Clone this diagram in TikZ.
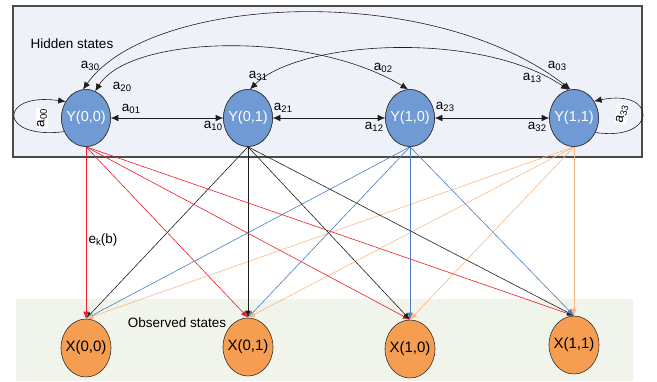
\documentclass[tikz,border=0pt]{standalone}
\usepackage{fontspec}
\setmainfont{Liberation Sans}
\usetikzlibrary{arrows.meta,shapes.geometric}
\definecolor{hidbg}{HTML}{EEF2F8}
\definecolor{obsbg}{HTML}{F1F4EA}
\definecolor{boxline}{HTML}{4A4A4A}
\definecolor{yfill}{HTML}{6F9AD3}
\definecolor{xfill}{HTML}{F59D51}
\definecolor{ered}{HTML}{EE1C25}
\definecolor{eblack}{HTML}{1E1E1E}
\definecolor{eblue}{HTML}{4A7EC0}
\definecolor{eorange}{HTML}{F9B884}
\newcommand{\asub}[1]{a\raisebox{-0.35ex}{\fontsize{9.5}{9.5}\selectfont #1}}
\begin{document}
\begin{tikzpicture}[x=1pt,y=-1pt,
  ynode/.style={ellipse, draw=black!80, line width=0.6pt, fill=yfill, minimum width=49pt, minimum height=57pt, inner sep=0pt},
  xnode/.style={ellipse, draw=black!80, line width=0.6pt, fill=xfill, minimum width=50pt, minimum height=58pt, inner sep=0pt},
  ytext/.style={text=white, font=\fontsize{14.5}{16}\selectfont, inner sep=0pt},
  xtext/.style={text=black, font=\fontsize{15}{17}\selectfont, inner sep=0pt},
  tarr/.style={{Latex[length=7.5pt,width=6.5pt]}-{Latex[length=7.5pt,width=6.5pt]}, draw=eblack, line width=0.6pt},
  sarr/.style={-{Latex[length=7.5pt,width=6.5pt]}, draw=eblack, line width=0.6pt},
  earr/.style={-{Latex[length=7pt,width=5.5pt]}, line width=0.6pt},
  lab/.style={font=\fontsize{13.5}{15}\selectfont, inner sep=1pt},
  ttl/.style={font=\fontsize{13.5}{16}\selectfont, inner sep=0pt}
]
\useasboundingbox (0,0) rectangle (657,381);
% regions
\draw[draw=boxline, line width=1.2pt, fill=hidbg] (13,6) rectangle (642,157);
\fill[obsbg] (16,299) rectangle (633,381);

% nodes
\node[ynode] (Y00) at (86,118) {};
\node[ynode] (Y01) at (248,118) {};
\node[ynode] (Y10) at (410,118) {};
\node[ynode] (Y11) at (574,118) {};

\node[xnode, label={[xtext]center:X(0,0)}] (X00) at (86,348) {};
\node[xnode, label={[xtext]center:X(0,1)}] (X01) at (248,347) {};
\node[xnode, label={[xtext]center:X(1,0)}] (X10) at (410,349) {};
\node[xnode, label={[xtext]center:X(1,1)}] (X11) at (574,345) {};

% emission arrows
\foreach \t in {X00,X01,X10,X11} {
  \draw[earr, draw=ered] (Y00.south) -- (\t.north);
  \draw[earr, draw=eblack] (Y01.south) -- (\t.north);
  \draw[earr, draw=eblue] (Y10.south) -- (\t.north);
  \draw[earr, draw=eorange] (Y11.south) -- (\t.north);
}
% hidden-state nodes drawn over the starts of the emission lines
\node[ynode, label={[ytext]center:Y(0,0)}] at (Y00) {};
\node[ynode, label={[ytext]center:Y(0,1)}] at (Y01) {};
\node[ynode, label={[ytext]center:Y(1,0)}] at (Y10) {};
\node[ynode, label={[ytext]center:Y(1,1)}] at (Y11) {};

% transitions
\draw[tarr] (Y00.east) -- (Y01.west);
\draw[tarr] (Y01.east) -- (Y10.west);
\draw[tarr] (Y10.east) -- (Y11.west);
\draw[tarr] (Y00.96) .. controls (150,-5) and (430,-20) .. (Y11.97);
\draw[tarr] (Y00.71) .. controls (130,35) and (310,30) .. (Y10.94);
\draw[tarr] (Y01.86) .. controls (300,40) and (480,30) .. (Y11.101);
\draw[sarr] (Y00.212) .. controls (-2,140) and (-2,92) .. (Y00.141);
\draw[sarr] (Y11.326) .. controls (658,142) and (658,88) .. (Y11.40);

% labels
\node[ttl] (hid) at (72,44) {Hidden states};
\node[ttl] (obs) at (177,323) {Observed states};
\node[lab] (ek) at (103,240) {e\raisebox{-0.35ex}{\fontsize{9.5}{9.5}\selectfont k}(b)};
\node[lab] (l30) at (90,66) {\asub{30}};
\node[lab] (l20) at (122,87) {\asub{20}};
\node[lab] (l01) at (131,109) {\asub{01}};
\node[lab] (l10) at (213,126) {\asub{10}};
\node[lab] (l31) at (258,76) {\asub{31}};
\node[lab] (l21) at (283,108) {\asub{21}};
\node[lab] (l02) at (383,68) {\asub{02}};
\node[lab] (l12) at (374,127) {\asub{12}};
\node[lab] (l23) at (445,107) {\asub{23}};
\node[lab] (l03) at (557,66) {\asub{03}};
\node[lab] (l13) at (532,78) {\asub{13}};
\node[lab] (l32) at (537,127) {\asub{32}};
\node[lab, fill=white, rotate=90] (l00) at (42,118) {\asub{00}};
\node[lab, fill=white, rotate=78] (l33) at (622,114) {\asub{33}};
\end{tikzpicture}
\end{document}
